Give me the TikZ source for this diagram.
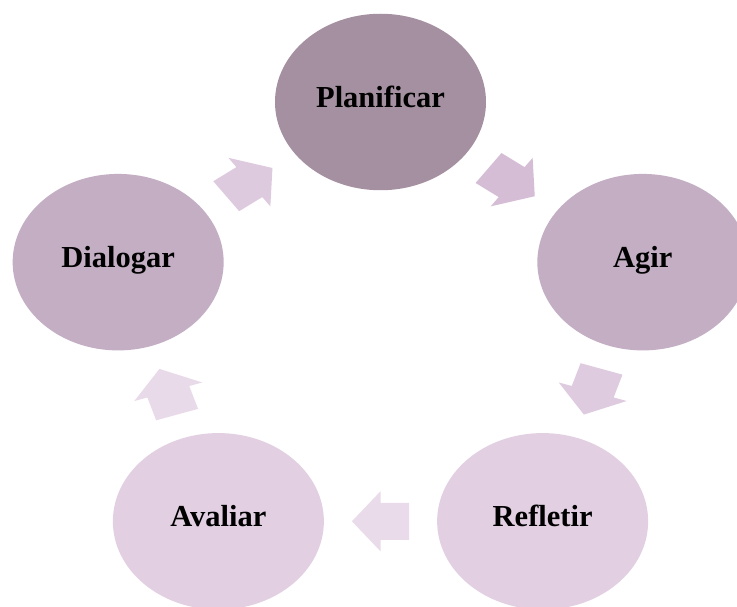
\documentclass[tikz,border=0pt]{standalone}
\usepackage{fontspec}
\setmainfont{Liberation Serif}
\usetikzlibrary{shapes.geometric}
\definecolor{cPlan}{RGB}{164,144,160}
\definecolor{cMid}{RGB}{196,174,196}
\definecolor{cLow}{RGB}{226,208,226}
\definecolor{aOne}{RGB}{213,190,213}
\definecolor{aTwo}{RGB}{223,203,223}
\definecolor{aThree}{RGB}{233,219,233}
\definecolor{aFour}{RGB}{232,218,232}
\definecolor{aFive}{RGB}{222,202,222}
\tikzset{
  stage/.style={ellipse, draw=none, fill=#1, minimum width=211pt, minimum height=176.5pt,
    inner sep=0pt, text height=17pt, text depth=6.4pt,
    font=\bfseries\fontsize{30.5}{36}\selectfont}
}
\newcommand\cyclearrow[3]{%
  \begin{scope}[shift={#1}, rotate=#2]
    \fill[#3] (-24,-18.5) -- (0,-18.5) -- (0,-30) -- (24,0) -- (0,30) -- (0,18.5) -- (-24,18.5) -- cycle;
  \end{scope}}
\begin{document}
\begin{tikzpicture}[x=1pt, y=1pt]
\clip (0,0) rectangle (737,606);
\fill[white] (0,0) rectangle (737,606);
\begin{scope}[shift={(380.5,272.2)}, xscale=1.19]
  \node[stage=cPlan] (plan) at (90:231.8) {Planificar};
  \node[stage=cMid]  (agir) at (18:231.8) {Agir};
  \node[stage=cLow]  (refl) at (-54:231.8) {Refletir};
  \node[stage=cLow]  (aval) at (-126:231.8) {Avaliar};
  \node[stage=cMid]  (dial) at (162:231.8) {Dialogar};
  \cyclearrow{(54:187.5)}{-36}{aOne}
  \cyclearrow{(-18:187.5)}{-108}{aTwo}
  \cyclearrow{(-90:187.5)}{-180}{aThree}
  \cyclearrow{(-162:187.5)}{108}{aFour}
  \cyclearrow{(126:187.5)}{36}{aFive}
\end{scope}
\end{tikzpicture}
\end{document}
